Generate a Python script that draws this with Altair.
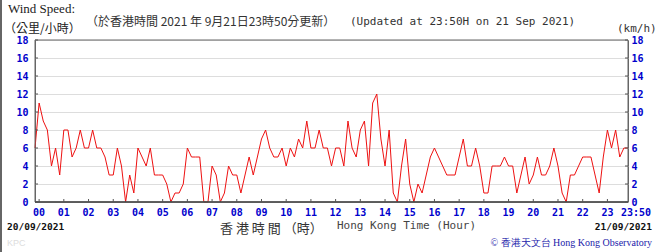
import altair as alt
import pandas as pd

# time of each reading, minutes after 00:00 on 21/09 (first reading 23:50 on 20/09)
minutes = list(range(-10, 1431, 10))
# wind speed (km/h), 10-minute readings
speeds = [
    6, 11, 9, 8, 4, 6, 3, 8, 8, 5,
    6, 8, 6, 6, 8, 6, 6, 5, 3, 3,
    6, 4, 0, 3, 1, 6, 5, 4, 6, 3,
    3, 3, 2, 0, 1, 1, 2, 6, 5, 5,
    5, 0, 0, 4, 3, 0, 1, 4, 3, 3,
    1, 3, 5, 3, 5, 7, 8, 6, 5, 5,
    6, 4, 6, 5, 7, 6, 9, 6, 6, 8,
    6, 6, 4, 6, 6, 4, 9, 6, 5, 8,
    9, 4, 11, 12, 7, 4, 8, 1, 0, 4,
    7, 2, 0, 2, 1, 3, 5, 6, 5, 4,
    3, 3, 3, 5, 7, 4, 4, 6, 4, 1,
    1, 4, 4, 4, 5, 4, 4, 1, 3, 5,
    2, 3, 5, 3, 3, 4, 6, 4, 1, 0,
    3, 3, 4, 5, 5, 5, 3, 1, 5, 8,
    6, 8, 5, 6, 6,
]
hour_ticks = [0, 60, 120, 180, 240, 300, 360, 420, 480, 540, 600, 660,
              720, 780, 840, 900, 960, 1020, 1080, 1140, 1200, 1260, 1320, 1380]
hour_labels = ["00", "01", "02", "03", "04", "05", "06", "07", "08", "09", "10", "11",
               "12", "13", "14", "15", "16", "17", "18", "19", "20", "21", "22", "23"]
end_tick = 1430
end_label = "23:50"
y_ticks = [0, 2, 4, 6, 8, 10, 12, 14, 16, 18]

W, H = 593, 162
BLUE = "#0000cc"
MONO = "DejaVu Sans Mono"
CJK = "Noto Sans CJK TC"

df = pd.DataFrame({"m": minutes, "v": speeds})
x_scale = alt.Scale(domain=[-10, 1430], nice=False, zero=False)
y_scale = alt.Scale(domain=[0, 18], nice=False)

x_axis = alt.Axis(
    values=hour_ticks, title=None, labels=False, ticks=False, tickSize=0,
    grid=True, gridColor="#dddddd", domain=False,
)
y_axis_left = alt.Axis(
    values=y_ticks, title=None, labelFont=MONO, labelFontWeight="bold",
    labelFontSize=10, labelColor=BLUE, labelPadding=7, ticks=False, tickSize=0,
    domain=False, grid=True, gridColor="#dddddd", labelOverlap=False, labelBound=False,
)
y_axis_right = alt.Axis(
    values=y_ticks, title=None, orient="right", labelFont=MONO, labelFontWeight="bold",
    labelFontSize=10, labelColor=BLUE, labelPadding=3, ticks=False, tickSize=0,
    domain=False, grid=False, labelOverlap=False, labelBound=False, labelAlign="left",
)

line = alt.Chart(df).mark_line(color="#ee1111", strokeWidth=1, interpolate="linear").encode(
    x=alt.X("m:Q", scale=x_scale, axis=x_axis),
    y=alt.Y("v:Q", scale=y_scale, axis=y_axis_left),
)
right_axis = alt.Chart(df).mark_line(opacity=0).encode(
    x=alt.X("m:Q", scale=x_scale, axis=None),
    y=alt.Y("v:Q", scale=y_scale, axis=y_axis_right),
)

yt = pd.DataFrame({"t": y_ticks})
ht = pd.DataFrame({"h": hour_ticks, "lab": hour_labels})
et = pd.DataFrame({"h": [end_tick], "lab": [end_label]})
ticks_left = alt.Chart(yt).mark_rule(color="#555555", strokeWidth=1).encode(
    y=alt.Y("t:Q", scale=y_scale, axis=None), x=alt.value(0), x2=alt.value(3))
ticks_right = alt.Chart(yt).mark_rule(color="#555555", strokeWidth=1).encode(
    y=alt.Y("t:Q", scale=y_scale, axis=None), x=alt.value(W - 3), x2=alt.value(W))
ticks_bottom = alt.Chart(ht).mark_rule(color="#555555", strokeWidth=1).encode(
    x=alt.X("h:Q", scale=x_scale, axis=None), y=alt.value(H - 3), y2=alt.value(H))
x_labels = alt.Chart(ht).mark_text(
    font=MONO, fontSize=10, fontWeight="bold", color=BLUE, align="center", baseline="middle"
).encode(x=alt.X("h:Q", scale=x_scale, axis=None), y=alt.value(H + 11), text="lab:N")
end_lab = alt.Chart(et).mark_text(
    font=MONO, fontSize=10, fontWeight="bold", color=BLUE, align="center",
    baseline="middle", dx=8,
).encode(x=alt.X("h:Q", scale=x_scale, axis=None), y=alt.value(H + 11), text="lab:N")

frame = alt.Chart(pd.DataFrame({"a": [0]})).mark_rect(
    filled=False, stroke="#666666", strokeWidth=1
).encode(x=alt.value(0), x2=alt.value(W), y=alt.value(0), y2=alt.value(H))
bottom = alt.Chart(pd.DataFrame({"a": [0]})).mark_rule(color="#444444", strokeWidth=1.5).encode(
    x=alt.value(0), x2=alt.value(W), y=alt.value(H))


def txt(s, x, y, font, size, color="#222222", align="left", weight="normal"):
    return alt.Chart(pd.DataFrame({"t": [s]})).mark_text(
        font=font, fontSize=size, color=color, align=align, baseline="middle",
        fontWeight=weight,
    ).encode(text="t:N", x=alt.value(x), y=alt.value(y))


border = alt.Chart(pd.DataFrame({"a": [0]})).mark_rule(color="#666666", strokeWidth=2).encode(
    x=alt.value(-34), y=alt.value(-40), y2=alt.value(212))

texts = [
    txt("Wind Speed:", -27, -31.5, "Liberation Serif", 13),
    txt("（公里/小時）", -31, -11.5, CJK, 12),
    txt("（於香港時間 2021 年 9月21日23時50分更新）", 51, -18, CJK, 12, "#333333"),
    txt("(Updated at 23:50H on 21 Sep 2021)", 315, -18, MONO, 11, "#333333"),
    txt("(km/h)", 582, -11.5, MONO, 11, "#333333"),
    txt("20/09/2021", -28, 187, MONO, 9.5, "#111111", weight="bold"),
    txt("21/09/2021", 617, 187, MONO, 9.5, "#111111", align="right", weight="bold"),
    txt("香 港 時 間 （時）", 185, 189, CJK, 13, "#333333"),
    txt("Hong Kong Time (Hour)", 302, 186, MONO, 11, "#444444"),
    txt("© 香港天文台 Hong Kong Observatory", 617, 202.5, "Liberation Serif", 10,
        "#2222aa", align="right"),
    txt("KPC", -28, 203, "Liberation Sans", 9, "#dddddd"),
]

chart = alt.layer(
    line, right_axis, frame, bottom, ticks_left, ticks_right, ticks_bottom,
    x_labels, end_lab, border, *texts
).resolve_scale(y="independent").properties(
    width=W, height=H,
    autosize=alt.AutoSizeParams(type="none"),
    padding={"left": 35, "top": 40, "right": 28, "bottom": 50},
    background="white",
).configure_view(stroke="#666666", strokeWidth=1)

chart.save("out.html", embed_options={"renderer": "svg", "actions": False})
